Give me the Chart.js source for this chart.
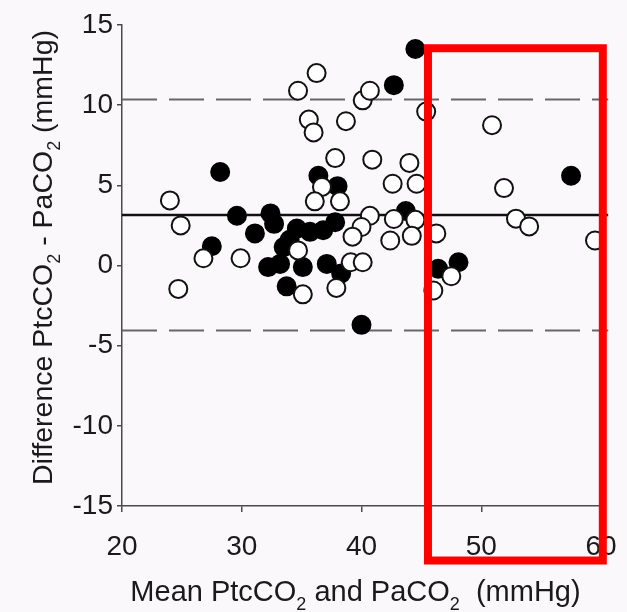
<!DOCTYPE html>
<html>
<head>
<meta charset="utf-8">
<script src="https://cdn.jsdelivr.net/npm/chart.js@4.4.1/dist/chart.umd.min.js"></script>
<style>
    html, body { margin: 0; padding: 0; background: #fbf8fc; }
    #wrap { width: 627px; height: 612px; }
</style>
</head>
<body>
<div id="wrap"><canvas id="bland" width="627" height="612"></canvas></div>
<script>
// open circles: mean of PtcCO2/PaCO2 and difference (mmHg)
const openMean = [24.0, 24.9, 24.7, 26.8, 29.9, 34.7, 36.25, 35.6, 36.0, 38.7, 40.1, 40.7, 45.4,
    37.8, 40.9, 44.0, 36.7, 42.6, 44.6, 36.1, 38.2, 40.7, 42.7, 44.5, 40.0, 39.25, 42.4, 44.2,
    46.25, 34.7, 39.1, 40.1, 35.1, 37.9, 46.0, 47.5, 50.9, 51.9, 52.9, 54.0, 59.5];
const openDiff = [4.06, 2.5, -1.46, 0.45, 0.45, 10.9, 12.0, 9.1, 8.3, 9.0, 10.3, 10.9, 9.6,
    6.7, 6.6, 6.4, 4.9, 5.1, 5.1, 4.0, 4.0, 3.1, 2.9, 2.85, 2.4, 1.8, 1.56, 1.85,
    2.0, 0.94, 0.2, 0.2, -1.8, -1.4, -1.56, -0.67, 8.75, 4.83, 2.92, 2.44, 1.56];

// filled circles
const filledMean = [28.2, 29.6, 27.5, 31.1, 32.4, 32.7, 32.2, 33.2, 33.5, 34.0, 33.75, 34.6, 35.7,
    36.8, 37.8, 35.1, 37.1, 38.3, 36.4, 38.0, 43.7, 40.0, 44.5, 42.7, 46.4, 48.1, 57.5];
const filledDiff = [5.83, 3.1, 1.2, 2.0, 3.25, 2.6, -0.1, 0.1, 1.15, 1.6, -1.3, 2.3, 2.1,
    2.2, 2.7, -0.1, 0.1, -0.5, 5.6, 4.95, 3.4, -3.7, 13.5, 11.25, -0.2, 0.2, 5.6];

// bias and limits of agreement
const lineSpan = [20, 60.6];
const bias = 3.15;
const upperLimit = 10.35;
const lowerLimit = -4.05;

const xTicks = [20, 30, 40, 50, 60];
const yTicks = [-15, -10, -5, 0, 5, 10, 15];

// red highlight box, in data units: x from, x to, y top, y bottom
const highlightBox = [45.55, 60.15, 13.55, -18.4];

const FONT = "'Liberation Sans', Arial, Helvetica, sans-serif";

function toPoints(xs, ys) {
    return xs.map(function (x, i) { return { x: x, y: ys[i] }; });
}

function flatLine(v) {
    return lineSpan.map(function (x) { return { x: x, y: v }; });
}

// draw text with subscript pieces, centred on (cx, cy)
function drawRich(ctx, parts, cx, cy, size, rotate) {
    ctx.save();
    ctx.translate(cx, cy);
    if (rotate) ctx.rotate(-Math.PI / 2);
    ctx.fillStyle = '#1a1a1a';
    ctx.textBaseline = 'alphabetic';
    ctx.textAlign = 'left';
    const sub = Math.round(size * 0.62);
    let total = 0;
    parts.forEach(function (p) {
        ctx.font = (p[1] ? sub : size) + 'px ' + FONT;
        total += ctx.measureText(p[0]).width;
    });
    let x = -total / 2;
    const base = size * 0.36;
    parts.forEach(function (p) {
        ctx.font = (p[1] ? sub : size) + 'px ' + FONT;
        ctx.fillText(p[0], x, p[1] ? base + size * 0.28 : base);
        x += ctx.measureText(p[0]).width;
    });
    ctx.restore();
}

const overlay = {
    id: 'overlay',
    afterDraw: function (chart) {
        const ctx = chart.ctx;
        const a = chart.chartArea;
        const xs = chart.scales.x;
        const ys = chart.scales.y;

        drawRich(ctx, [['Mean PtcCO', 0], ['2', 1], [' and PaCO', 0], ['2', 1], ['  (mmHg)', 0]],
            (a.left + a.right) / 2 - 6, 591, 29, false);
        drawRich(ctx, [['Difference PtcCO', 0], ['2', 1], [' - PaCO', 0], ['2', 1], [' (mmHg)', 0]],
            42, (a.top + a.bottom) / 2 - 8, 28.5, true);

        const l = xs.getPixelForValue(highlightBox[0]);
        const r = xs.getPixelForValue(highlightBox[1]);
        const t = ys.getPixelForValue(highlightBox[2]);
        const b = ys.getPixelForValue(highlightBox[3]);
        ctx.save();
        ctx.strokeStyle = '#ff0000';
        ctx.lineWidth = 8;
        ctx.strokeRect(l, t, r - l, b - t);
        ctx.restore();
    }
};

const axisColor = '#4a4a4a';

new Chart(document.getElementById('bland').getContext('2d'), {
    type: 'scatter',
    data: {
        datasets: [
            {
                data: toPoints(openMean, openDiff),
                pointRadius: 9,
                pointBorderWidth: 2,
                pointBackgroundColor: '#ffffff',
                pointBorderColor: '#111111',
                clip: false
            },
            {
                data: toPoints(filledMean, filledDiff),
                pointRadius: 9,
                pointBorderWidth: 2,
                pointBackgroundColor: '#000000',
                pointBorderColor: '#000000',
                clip: false
            },
            {
                data: flatLine(bias),
                showLine: true,
                pointRadius: 0,
                borderColor: '#111111',
                borderWidth: 2.5,
                clip: false
            },
            {
                data: flatLine(upperLimit),
                showLine: true,
                pointRadius: 0,
                borderColor: '#666666',
                borderWidth: 2,
                borderDash: [35, 12],
                clip: false
            },
            {
                data: flatLine(lowerLimit),
                showLine: true,
                pointRadius: 0,
                borderColor: '#666666',
                borderWidth: 2,
                borderDash: [35, 12],
                clip: false
            }
        ]
    },
    options: {
        responsive: false,
        animation: false,
        devicePixelRatio: 1,
        layout: { padding: { left: 0, top: 25, right: 26, bottom: 0 } },
        plugins: {
            legend: { display: false },
            tooltip: { enabled: false }
        },
        scales: {
            x: {
                type: 'linear',
                min: xTicks[0],
                max: xTicks[xTicks.length - 1],
                afterBuildTicks: function (s) { s.ticks = xTicks.map(function (v) { return { value: v }; }); },
                ticks: { color: '#1a1a1a', font: { family: FONT, size: 28 }, padding: 18 },
                grid: { display: true, drawOnChartArea: false, drawTicks: true, tickLength: 6, color: axisColor, lineWidth: 1.5 },
                border: { display: true, color: axisColor, width: 1.5 },
                afterFit: function (s) {
                    // fixed axis band; the end labels may hang over the padding
                    s.height = 106;
                    s.paddingLeft = 0;
                    s.paddingRight = 0;
                }
            },
            y: {
                type: 'linear',
                min: yTicks[0],
                max: yTicks[yTicks.length - 1],
                afterBuildTicks: function (s) { s.ticks = yTicks.map(function (v) { return { value: v }; }); },
                ticks: { color: '#1a1a1a', font: { family: FONT, size: 28 }, padding: 4 },
                grid: { display: true, drawOnChartArea: false, drawTicks: true, tickLength: 5, color: axisColor, lineWidth: 1.5 },
                border: { display: true, color: axisColor, width: 1.5 },
                afterFit: function (s) {
                    s.width = 122;
                    s.paddingTop = 0;
                    s.paddingBottom = 0;
                }
            }
        }
    },
    plugins: [overlay]
});
</script>
</body>
</html>
